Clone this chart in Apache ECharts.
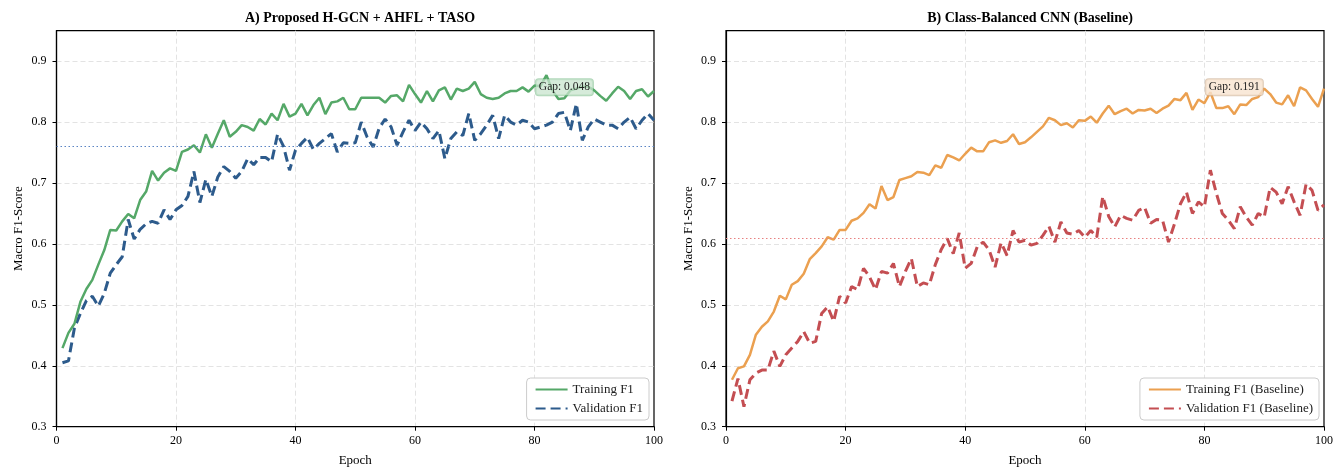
<!DOCTYPE html>
<html>
<head>
<meta charset="utf-8">
<script src="https://cdn.jsdelivr.net/npm/echarts@6/dist/echarts.min.js"></script>
<style>html,body{margin:0;padding:0;background:#fff}#c{width:1343px;height:470px}</style>
</head>
<body>
<div id="c"></div>
<script>
// ---- data ----
const epochs = Array.from({length: 100}, (_, i) => i + 1);
const trainA = [0.429,0.454,0.469,0.505,0.526,0.541,0.566,0.590,0.623,0.622,
0.637,0.649,0.642,0.672,0.686,0.720,0.704,0.717,0.724,0.720,
0.751,0.755,0.762,0.750,0.780,0.758,0.781,0.803,0.776,0.784,
0.795,0.792,0.786,0.805,0.796,0.814,0.803,0.830,0.809,0.814,
0.830,0.811,0.828,0.840,0.813,0.832,0.834,0.840,0.821,0.821,
0.840,0.840,0.840,0.840,0.832,0.843,0.844,0.834,0.861,0.846,
0.832,0.851,0.834,0.852,0.857,0.837,0.855,0.851,0.855,0.866,
0.846,0.840,0.838,0.840,0.847,0.851,0.851,0.857,0.850,0.860,
0.859,0.877,0.852,0.838,0.839,0.852,0.855,0.858,0.858,0.852,
0.843,0.835,0.847,0.858,0.851,0.838,0.851,0.854,0.842,0.851];
const valA = [0.405,0.408,0.462,0.486,0.507,0.514,0.498,0.519,0.552,0.566,
0.579,0.640,0.608,0.624,0.633,0.637,0.634,0.656,0.640,0.656,
0.663,0.678,0.719,0.668,0.706,0.678,0.710,0.727,0.719,0.708,
0.719,0.740,0.730,0.742,0.742,0.735,0.780,0.760,0.721,0.754,
0.765,0.775,0.755,0.765,0.773,0.781,0.751,0.766,0.765,0.766,
0.800,0.775,0.759,0.790,0.805,0.792,0.762,0.784,0.803,0.786,
0.800,0.789,0.773,0.786,0.740,0.773,0.784,0.778,0.814,0.770,
0.781,0.795,0.811,0.773,0.811,0.800,0.795,0.803,0.800,0.789,
0.792,0.795,0.800,0.814,0.816,0.786,0.830,0.770,0.792,0.805,
0.800,0.795,0.795,0.789,0.800,0.808,0.789,0.803,0.814,0.803];
const trainB = [0.377,0.396,0.399,0.418,0.451,0.464,0.473,0.489,0.515,0.509,
0.533,0.539,0.551,0.575,0.585,0.596,0.611,0.607,0.623,0.623,
0.638,0.642,0.651,0.665,0.658,0.695,0.672,0.677,0.705,0.708,
0.711,0.718,0.717,0.713,0.729,0.725,0.746,0.742,0.737,0.748,
0.758,0.752,0.752,0.767,0.770,0.766,0.769,0.780,0.764,0.767,
0.775,0.784,0.793,0.807,0.803,0.795,0.798,0.791,0.803,0.802,
0.809,0.799,0.814,0.827,0.813,0.818,0.822,0.814,0.820,0.819,
0.822,0.815,0.822,0.827,0.838,0.836,0.848,0.820,0.837,0.831,
0.849,0.823,0.823,0.826,0.813,0.829,0.828,0.838,0.841,0.855,
0.846,0.832,0.829,0.844,0.826,0.857,0.852,0.838,0.825,0.855];
const valB = [0.342,0.379,0.333,0.377,0.388,0.393,0.393,0.424,0.399,0.418,
0.429,0.440,0.456,0.437,0.440,0.486,0.497,0.473,0.514,0.503,
0.530,0.525,0.560,0.546,0.525,0.555,0.552,0.568,0.530,0.555,
0.576,0.530,0.536,0.533,0.566,0.591,0.609,0.584,0.618,0.560,
0.568,0.595,0.603,0.590,0.562,0.602,0.581,0.622,0.603,0.606,
0.598,0.601,0.614,0.629,0.603,0.636,0.618,0.616,0.622,0.611,
0.622,0.611,0.678,0.645,0.628,0.647,0.642,0.639,0.655,0.660,
0.634,0.640,0.639,0.603,0.633,0.666,0.685,0.650,0.669,0.661,
0.721,0.683,0.650,0.639,0.625,0.661,0.644,0.631,0.650,0.644,
0.693,0.685,0.666,0.694,0.669,0.647,0.698,0.688,0.655,0.664];
const refLineA = 0.763;
const refLineB = 0.612;
const gapA = "Gap: 0.048";
const gapB = "Gap: 0.191";
const gapPos = [85, 0.857];
const titles = ["A) Proposed H-GCN + AHFL + TASO", "B) Class-Balanced CNN (Baseline)"];
const names = ["Training F1", "Validation F1", "Training F1 (Baseline)", "Validation F1 (Baseline)"];

const pairs = arr => arr.map((v, i) => [epochs[i], v]);
const FONT = "Liberation Serif";
const chart = echarts.init(document.getElementById('c'), null, {renderer: 'canvas'});

function xAx(gi) {
  return {
    type: 'value', gridIndex: gi, min: 0, max: 100, interval: 20,
    name: 'Epoch', nameLocation: 'middle', nameGap: 27,
    nameTextStyle: {fontFamily: FONT, fontSize: 13, color: '#000'},
    axisLine: {show: true, onZero: false, lineStyle: {color: '#000', width: 1.2}},
    axisTick: {show: true, length: 4, lineStyle: {color: '#000'}},
    axisLabel: {fontFamily: FONT, fontSize: 12, color: '#000', margin: 8},
    splitLine: {show: true, showMinLine: false, showMaxLine: false,
      lineStyle: {color: '#e3e3e3', type: [5, 3], width: 1}}
  };
}
function yAx(gi) {
  return {
    type: 'value', gridIndex: gi, min: 0.3, max: 0.95, interval: 0.1,
    name: 'Macro F1-Score', nameLocation: 'middle', nameGap: 31,
    nameTextStyle: {fontFamily: FONT, fontSize: 13, color: '#000'},
    axisLine: {show: true, onZero: false, lineStyle: {color: '#000', width: 1.2}},
    axisTick: {show: true, length: 4, lineStyle: {color: '#000'}},
    axisLabel: {fontFamily: FONT, fontSize: 12, color: '#000', margin: 10, showMaxLabel: false,
      formatter: v => v.toFixed(1)},
    splitLine: {show: true, showMinLine: false, showMaxLine: false,
      lineStyle: {color: '#e3e3e3', type: [5, 3], width: 1}}
  };
}
function gapLabel(text, bg, border) {
  return {
    symbol: 'rect', symbolSize: 1, silent: true,
    itemStyle: {color: 'rgba(0,0,0,0)'},
    data: [{coord: gapPos, value: text}],
    label: {show: true, position: 'inside', formatter: text, fontFamily: FONT, fontSize: 11.5, color: '#222',
      backgroundColor: bg, borderColor: border, borderWidth: 1, borderRadius: 3, padding: [2, 3]}
  };
}
function refLine(val, color) {
  return {
    symbol: ['none', 'none'], silent: true, label: {show: false},
    lineStyle: {color: color, type: [1.5, 2.5], width: 1.2},
    data: [{yAxis: val}]
  };
}
function legendCfg(data, right) {
  return {data: data, orient: 'vertical', right: right, bottom: 50,
    backgroundColor: '#fff', borderColor: '#ccc', borderWidth: 1, borderRadius: 4,
    padding: [5, 6, 5, 8], itemGap: 6, itemWidth: 32, itemHeight: 12,
    itemStyle: {opacity: 0},
    textStyle: {fontFamily: FONT, fontSize: 13, color: '#222'}};
}

const option = {
  backgroundColor: '#fff',
  animation: false,
  title: [
    {text: titles[0], left: 355, top: 6, textAlign: 'center',
      textStyle: {fontFamily: FONT, fontSize: 14, fontWeight: 'bold', color: '#000'}},
    {text: titles[1], left: 1025, top: 6, textAlign: 'center',
      textStyle: {fontFamily: FONT, fontSize: 14, fontWeight: 'bold', color: '#000'}}
  ],
  grid: [
    {left: 56.5, right: 689, top: 30.7, bottom: 43.3, outerBoundsMode: 'none',
      show: true, borderColor: '#000', borderWidth: 1.2},
    {left: 726, right: 19, top: 30.7, bottom: 43.3, outerBoundsMode: 'none',
      show: true, borderColor: '#000', borderWidth: 1.2}
  ],
  xAxis: [xAx(0), xAx(1)],
  yAxis: [yAx(0), yAx(1)],
  legend: [legendCfg([names[0], names[1]], 694), legendCfg([names[2], names[3]], 24)],
  series: [
    {name: names[0], type: 'line', xAxisIndex: 0, yAxisIndex: 0, data: pairs(trainA),
      symbol: 'none', color: '#55A868', lineStyle: {width: 2.5, color: '#55A868'}, z: 3,
      markLine: refLine(refLineA, '#5B84C4'),
      markPoint: gapLabel(gapA, 'rgba(200,228,205,0.75)', 'rgba(85,168,104,0.45)')},
    {name: names[1], type: 'line', xAxisIndex: 0, yAxisIndex: 0, data: pairs(valA),
      symbol: 'none', color: '#2D5B8C', lineStyle: {width: 3, color: '#2D5B8C', type: [10, 5]}, z: 2},
    {name: names[2], type: 'line', xAxisIndex: 1, yAxisIndex: 1, data: pairs(trainB),
      symbol: 'none', color: '#EBA050', lineStyle: {width: 2.5, color: '#EBA050'}, z: 3,
      markLine: refLine(refLineB, '#E88080'),
      markPoint: gapLabel(gapB, 'rgba(248,228,208,0.8)', 'rgba(200,170,140,0.6)')},
    {name: names[3], type: 'line', xAxisIndex: 1, yAxisIndex: 1, data: pairs(valB),
      symbol: 'none', color: '#C44E52', lineStyle: {width: 3, color: '#C44E52', type: [10, 5]}, z: 2}
  ]
};
chart.setOption(option);
</script>
</body>
</html>
